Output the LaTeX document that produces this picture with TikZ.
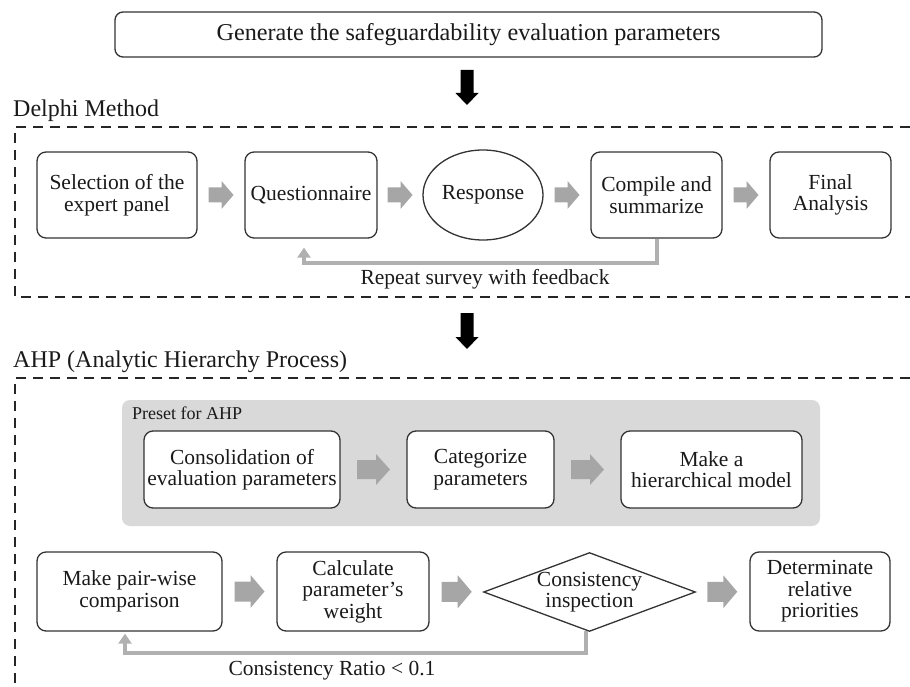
\documentclass[tikz,border=0pt]{standalone}
\usepackage{fontspec}
\setmainfont{Liberation Serif}
\usetikzlibrary{calc,arrows.meta,shapes.geometric}
\definecolor{boxline}{HTML}{333333}
\definecolor{txt}{HTML}{1A1A1A}
\definecolor{blockgray}{HTML}{A6A6A6}
\definecolor{fbgray}{HTML}{B0B0B0}
\definecolor{presetgray}{HTML}{D9D9D9}
% #1 centre coordinate, #2 style, #3 length, #4 shaft width, #5 head width, #6 head length, #7 rotation
\newcommand\blockarrow[7]{%
  \fill[#2,shift={(#1)},rotate=#7]
    ({-#3/2},{-#4/2}) -- ({#3/2-#6},{-#4/2}) -- ({#3/2-#6},{-#5/2}) --
    ({#3/2},0) -- ({#3/2-#6},{#5/2}) -- ({#3/2-#6},{#4/2}) --
    ({-#3/2},{#4/2}) -- cycle;}
\begin{document}
\begin{tikzpicture}[x=1pt,y=-1pt,
  proc/.style={draw=boxline, line width=1.3pt, rounded corners=9pt, fill=white,
    align=center, inner sep=0pt, text=txt, font=\fontsize{21.5}{21.5}\selectfont},
  plain/.style={inner sep=0pt, text=txt, font=\fontsize{21.5}{21.5}\selectfont},
  title/.style={inner sep=0pt, text=txt, font=\fontsize{24}{24}\selectfont, anchor=base west},
  dashbox/.style={draw=black!85, line width=2pt, dash pattern=on 10pt off 7pt},
  fb/.style={draw=fbgray, line width=4pt, -{Triangle[width=13pt,length=10pt]}},
  ga/.style={blockgray},
  ka/.style={black}]
\useasboundingbox (0,0) rectangle (910,687);

% top box
\node[proc, rounded corners=8pt, minimum width=707pt, minimum height=45pt,
  font=\fontsize{24.2}{24}\selectfont] (top) at (468.5,34.5)
  {Generate the safeguardability evaluation parameters};
\coordinate (k1) at (467,87.5);
\blockarrow{k1}{ka}{35}{13}{23}{12}{-90}

% Delphi section
\node[title] (delphi) at (13,117) {Delphi Method};
\draw[dashbox] (910,127) -- (15,127) -- (15,297) -- (910,297);

\node[proc, minimum width=160pt, minimum height=86pt] (s1) at (117,195) {Selection of the\\expert panel};
\node[proc, minimum width=132pt, minimum height=86pt] (q) at (311,195) {Questionnaire};
\node[draw=boxline, line width=1.3pt, ellipse, fill=white, minimum width=120pt, minimum height=90pt,
  inner sep=0pt, text=txt, font=\fontsize{21.5}{21.5}\selectfont] (r) at (483,195) {Response};
\node[proc, minimum width=131pt, minimum height=86pt] (c4) at (656.5,195) {Compile and\\summarize};
\node[proc, minimum width=121pt, minimum height=86pt] (f) at (830.5,195) {Final\\Analysis};

\coordinate (a1) at ($(s1.east)!0.5!(q.west)$);
\coordinate (a2) at ($(q.east)!0.5!(r.west)$);
\coordinate (a3) at ($(r.east)!0.5!(c4.west)$);
\coordinate (a4) at ($(c4.east)!0.5!(f.west)$);
\blockarrow{a1}{ga}{25}{15}{28}{12}{0}
\blockarrow{a2}{ga}{25}{15}{28}{12}{0}
\blockarrow{a3}{ga}{25}{15}{28}{12}{0}
\blockarrow{a4}{ga}{25}{15}{28}{12}{0}

\draw[fb, shorten >=9pt] (c4.south) -- ++(0,24) -| ([xshift=-7pt]q.south);
\node[plain, anchor=base] (rep) at (485,284) {Repeat survey with feedback};

\coordinate (k2) at (467,331);
\blockarrow{k2}{ka}{36}{13}{23}{12}{-90}

% AHP section
\node[title] (ahp) at (13,367) {AHP (Analytic Hierarchy Process)};
\draw[dashbox] (910,378) -- (15,378) -- (15,690);

\node[fill=presetgray, rounded corners=8pt, minimum width=698pt, minimum height=126pt, inner sep=0pt] (pre) at (471,463) {};
\node[inner sep=0pt, text=txt, font=\fontsize{18}{18}\selectfont, anchor=base west] (prel) at (132,419) {Preset for AHP};

\node[proc, minimum width=196pt, minimum height=77pt] (p1) at (242,469.5) {Consolidation of\\evaluation parameters};
\node[proc, minimum width=147pt, minimum height=77pt] (p2) at (480.5,469.5) {Categorize\\parameters};
\node[proc, minimum width=181pt, minimum height=77pt] (p3) at (711.5,469.5) {Make a\\hierarchical model};
\coordinate (b1) at ($(p1.east)!0.5!(p2.west)$);
\coordinate (b2) at ($(p2.east)!0.5!(p3.west)$);
\blockarrow{b1}{ga}{33}{19}{31}{14}{0}
\blockarrow{b2}{ga}{33}{19}{31}{14}{0}

\node[proc, minimum width=185pt, minimum height=79pt] (m1) at (129.5,591.5) {Make pair-wise\\comparison};
\node[proc, minimum width=152pt, minimum height=79pt] (m2) at (353,591.5) {Calculate\\parameter’s\\weight};
\node[plain, align=center, minimum width=211pt, minimum height=78pt] (d) at (589.5,592) {Consistency\\inspection};
\draw[draw=boxline, line width=1.3pt] (d.north) -- (d.east) -- (d.south) -- (d.west) -- cycle;
\node[proc, minimum width=140pt, minimum height=79pt] (m4) at (820,591.5) {Determinate\\relative\\priorities};
\coordinate (c1) at ($(m1.east)!0.5!(m2.west)$);
\coordinate (c2) at ($(m2.east)!0.5!(d.west)$);
\coordinate (c3) at ($(d.east)!0.5!(m4.west)$);
\blockarrow{c1}{ga}{30}{20}{33}{14}{0}
\blockarrow{c2}{ga}{30}{20}{33}{14}{0}
\blockarrow{c3}{ga}{30}{20}{33}{14}{0}

\draw[fb, shorten >=2pt] ([xshift=-4pt]d.south) -- ++(0,22) -| ([xshift=-4.5pt]m1.south);
\node[plain, anchor=base] (cr) at (332,675) {Consistency Ratio < 0.1};
\end{tikzpicture}
\end{document}
